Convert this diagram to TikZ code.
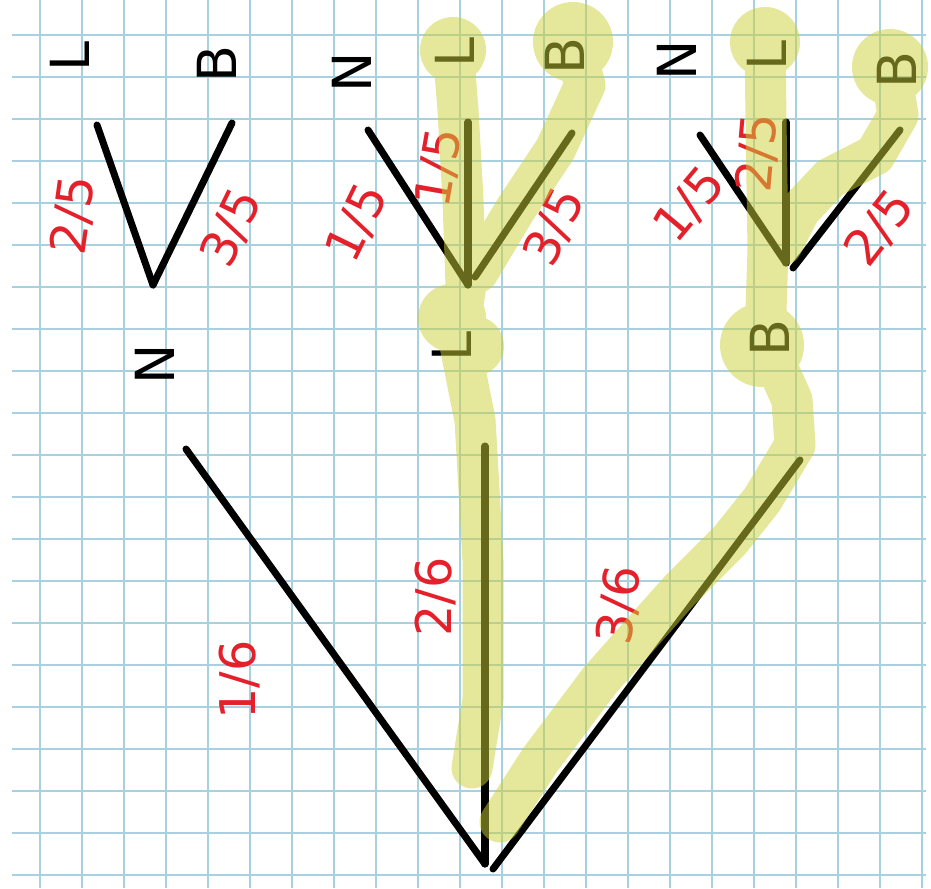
\documentclass[tikz,border=0pt]{standalone}
\usepackage{fontspec}
\setsansfont{DejaVu Sans}
\definecolor{gridblue}{RGB}{168,208,222}
\definecolor{probred}{RGB}{228,32,42}
\definecolor{hlyellow}{RGB}{205,208,55}

\begin{document}
\begin{tikzpicture}[
    x=0.03cm, y=-0.03cm,
    gridline/.style={draw=gridblue, line width=1.5pt},
    branch/.style={line width=6pt, line cap=round},
    ball/.style={font=\fontsize{46}{46}\selectfont\sffamily, rotate=90, inner sep=0pt},
    prob/.style={font=\fontsize{42}{42}\selectfont\sffamily, text=probred, inner sep=0pt},
    marker/.style={draw=hlyellow, line width=35pt, line cap=round, line join=round}
  ]
    \fill[white] (0,0) rectangle (931,888);
    \useasboundingbox (0,0) rectangle (931,888);
    % squared paper
    \foreach \i in {0,...,21}
      \draw[gridline] (40+42*\i,0) -- (40+42*\i,888);
    \foreach \j in {0,...,20}
      \draw[gridline] (12,35+42*\j) -- (926,35+42*\j);

    % first draw
    \coordinate (root) at (485,864);
    \coordinate (rootb) at (493,869);
    \node[ball] (n1) at (155,364) {N};
    \node[ball] (l1) at (452,346) {L};
    \node[ball] (b1) at (770,338) {B};
    \coordinate (n1e) at (186,449);
    \coordinate (l1e) at (485,446);
    \coordinate (b1e) at (800,460);
    \draw[branch] (root) -- (n1e);
    \draw[branch] (root) -- (l1e);
    \draw[branch] (rootb) -- (b1e);
    \node[prob, rotate=90] (p1) at (240,680) {1/6};
    \node[prob, rotate=90] (p2) at (436,597) {2/6};
    \node[prob, rotate=82] (p3) at (620,605) {3/6};

    % second draw after N
    \coordinate (rn) at (153,285);
    \coordinate (nl) at (97,125);
    \coordinate (nb) at (232,123);
    \node[ball] (nl2) at (70,56) {L};
    \node[ball] (nb2) at (217,64) {B};
    \draw[branch] (rn) -- (nl);
    \draw[branch] (rn) -- (nb);
    \node[prob, rotate=82] (q1) at (74,215) {2/5};
    \node[prob, rotate=64] (q2) at (232,228) {3/5};

    % second draw after L
    \coordinate (rl) at (468,285);
    \coordinate (rlb) at (475,277);
    \coordinate (ln) at (368,130);
    \coordinate (ll) at (468,122);
    \coordinate (lb) at (572,133);
    \node[ball] (ln2) at (352,72) {N};
    \node[ball] (ll2) at (455,52) {L};
    \node[ball] (lb2) at (565,56) {B};
    \draw[branch] (rl) -- (ln);
    \draw[branch] (rl) -- (ll);
    \draw[branch] (rlb) -- (lb);
    \node[prob, rotate=64] (q3) at (358,223) {1/5};
    \node[prob, rotate=80] (q4) at (440,168) {1/5};
    \node[prob, rotate=64] (q5) at (555,227) {3/5};

    % second draw after B
    \coordinate (rb) at (786,263);
    \coordinate (rbb) at (793,268);
    \coordinate (bn) at (700,135);
    \coordinate (bl) at (786,122);
    \coordinate (bb) at (900,130);
    \node[ball] (bn2) at (677,60) {N};
    \node[ball] (bl2) at (767,55) {L};
    \node[ball] (bb2) at (897,70) {B};
    \draw[branch] (rb) -- (bn);
    \draw[branch] (rb) -- (bl);
    \draw[branch] (rbb) -- (bb);
    \node[prob, rotate=50] (q6) at (690,205) {1/5};
    \node[prob, rotate=85] (q7) at (758,153) {2/5};
    \node[prob, rotate=52] (q8) at (880,228) {2/5};

    % highlighter
    \begin{scope}[transparency group, opacity=0.5]
      \draw[marker] (453,48) -- (458,110) -- (463,200) -- (466,285) -- (458,335)
        -- (475,420) -- (483,560) -- (483,700) -- (472,768);
      \fill[hlyellow] (453,50) circle (33);
      \fill[hlyellow] (452,318) circle (34);
      \fill[hlyellow] (474,346) circle (30);
      \draw[marker] (573,42) -- (585,85) -- (555,150) -- (515,210) -- (478,272);
      \fill[hlyellow] (573,42) circle (40);
      \draw[marker] (765,40) -- (766,120) -- (768,250) -- (765,340) -- (792,400)
        -- (795,445) -- (762,500) -- (730,540) -- (680,590) -- (600,680)
        -- (540,760) -- (500,822);
      \fill[hlyellow] (765,42) circle (35);
      \fill[hlyellow] (762,345) circle (42);
      \draw[marker] (890,67) -- (898,115) -- (875,155) -- (830,178) -- (800,210)
        -- (782,245);
      \fill[hlyellow] (890,67) circle (38);
    \end{scope}
  \end{tikzpicture}
\end{document}
